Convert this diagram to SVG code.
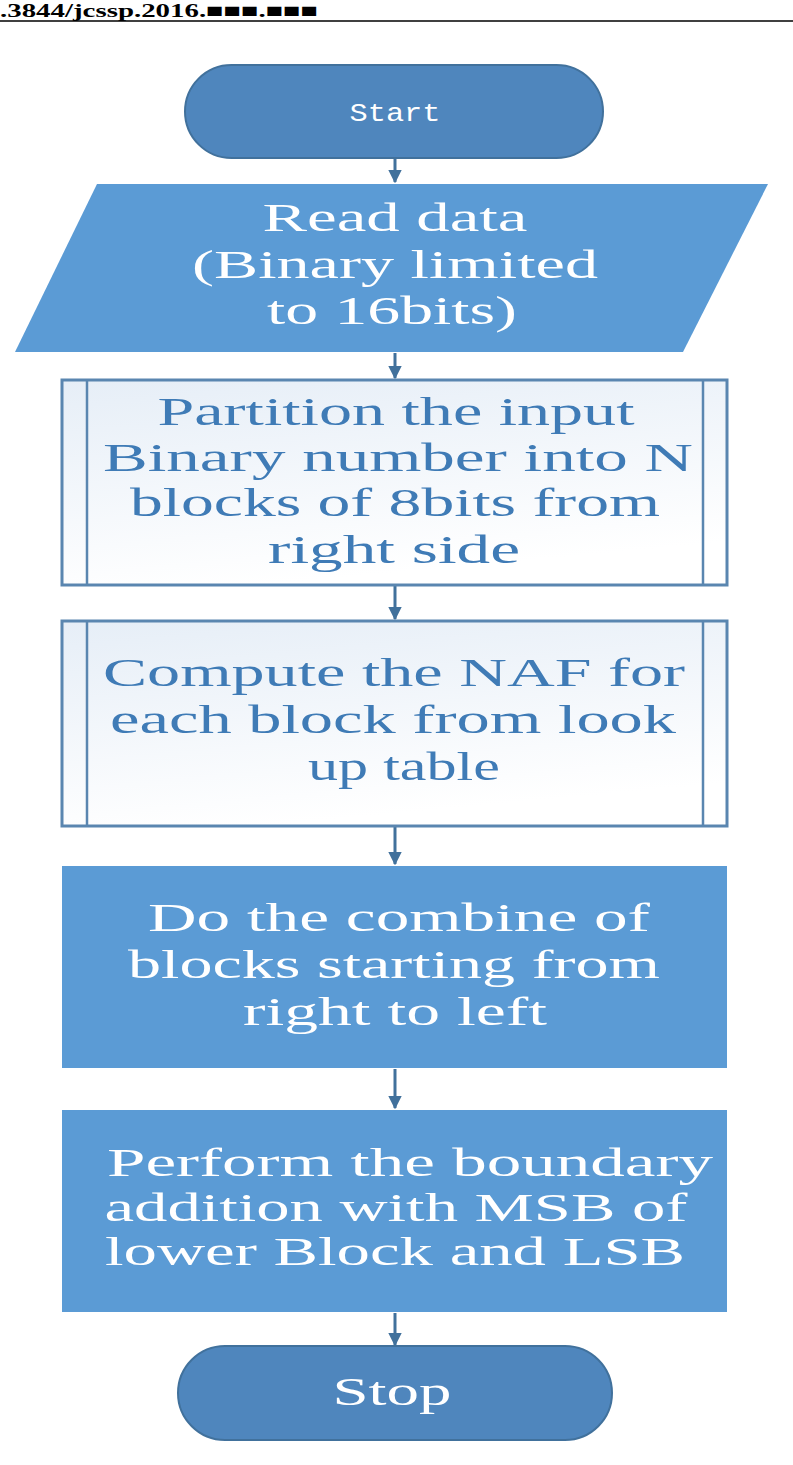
<svg xmlns="http://www.w3.org/2000/svg" width="793" height="1465" viewBox="0 0 793 1465">
<style>
.hdr{font-family:"Liberation Serif",serif;font-weight:bold;font-size:19px;fill:#000}
.t{font-family:"Liberation Serif",serif;font-size:40px;text-anchor:middle}
.w{fill:#ffffff}
.b{fill:#3f7bb6}
.term{fill:#4f86bd;stroke:#41719c;stroke-width:2}
.blue{fill:#5b9bd5}
.light{fill:url(#lg);stroke:#5a86b0;stroke-width:3}
.inner{stroke:#5a86b0;stroke-width:2.5;fill:none}
.conn line{stroke:#41719c;stroke-width:3}
</style>
<defs>
<linearGradient id="lg" x1="0" y1="0" x2="0.3" y2="1">
<stop offset="0" stop-color="#e6eef7"/>
<stop offset="1" stop-color="#ffffff"/>
</linearGradient>
<marker id="ah" viewBox="0 0 10 10" refX="9" refY="5" markerWidth="4.5" markerHeight="4.5" orient="auto" markerUnits="strokeWidth">
<path d="M0,0 L10,5 L0,10 z" fill="#41719c"/>
</marker>
</defs>
<rect width="793" height="1465" fill="#ffffff"/>
<g id="header">
<text class="hdr" x="0" y="17" textLength="318" lengthAdjust="spacingAndGlyphs">.3844/jcssp.2016.■■■.■■■</text>
<line x1="0" y1="21" x2="793" y2="21" stroke="#000" stroke-width="1.5"/>
</g>
<g class="conn" id="connectors">
<line x1="395" y1="159" x2="395" y2="182" marker-end="url(#ah)"/>
<line x1="395" y1="353" x2="395" y2="378" marker-end="url(#ah)"/>
<line x1="395" y1="586" x2="395" y2="619" marker-end="url(#ah)"/>
<line x1="395" y1="827" x2="395" y2="864" marker-end="url(#ah)"/>
<line x1="395" y1="1069" x2="395" y2="1108" marker-end="url(#ah)"/>
<line x1="395" y1="1313" x2="395" y2="1345" marker-end="url(#ah)"/>
</g>
<g id="start">
<rect class="term" x="185" y="65" width="418" height="93" rx="46.5" ry="46.5"/>
<text x="395" y="121" font-family="Liberation Mono,monospace" font-size="26" text-anchor="middle" fill="#fff" textLength="91" lengthAdjust="spacingAndGlyphs">Start</text>
</g>
<g id="read">
<polygon class="blue" points="97,184 768,184 683,352 15,352"/>
<text class="t w" x="395" y="231" textLength="265" lengthAdjust="spacingAndGlyphs">Read data</text>
<text class="t w" x="395" y="278" textLength="406" lengthAdjust="spacingAndGlyphs">(Binary limited</text>
<text class="t w" x="392" y="324" textLength="250" lengthAdjust="spacingAndGlyphs">to 16bits)</text>
</g>
<g id="partition">
<rect class="light" x="62" y="380" width="665" height="205"/>
<line class="inner" x1="87" y1="380" x2="87" y2="585"/>
<line class="inner" x1="703" y1="380" x2="703" y2="585"/>
<text class="t b" x="396" y="425" textLength="477" lengthAdjust="spacingAndGlyphs">Partition the input</text>
<text class="t b" x="398" y="471" textLength="590" lengthAdjust="spacingAndGlyphs">Binary number into N</text>
<text class="t b" x="395" y="516" textLength="530" lengthAdjust="spacingAndGlyphs">blocks of 8bits from</text>
<text class="t b" x="394" y="563" textLength="252" lengthAdjust="spacingAndGlyphs">right side</text>
</g>
<g id="compute">
<rect class="light" x="62" y="621" width="665" height="205"/>
<line class="inner" x1="87" y1="621" x2="87" y2="826"/>
<line class="inner" x1="703" y1="621" x2="703" y2="826"/>
<text class="t b" x="394" y="686" textLength="582" lengthAdjust="spacingAndGlyphs">Compute the NAF for</text>
<text class="t b" x="393" y="733" textLength="566" lengthAdjust="spacingAndGlyphs">each block from look</text>
<text class="t b" x="404" y="780" textLength="192" lengthAdjust="spacingAndGlyphs">up table</text>
</g>
<g id="combine">
<rect class="blue" x="62" y="866" width="665" height="202"/>
<text class="t w" x="399" y="931" textLength="502" lengthAdjust="spacingAndGlyphs">Do the combine of</text>
<text class="t w" x="394" y="978" textLength="532" lengthAdjust="spacingAndGlyphs">blocks starting from</text>
<text class="t w" x="395" y="1025" textLength="304" lengthAdjust="spacingAndGlyphs">right to left</text>
</g>
<g id="perform">
<rect class="blue" x="62" y="1110" width="665" height="202"/>
<text class="t w" x="410" y="1176" textLength="606" lengthAdjust="spacingAndGlyphs">Perform the boundary</text>
<text class="t w" x="396" y="1221" textLength="583" lengthAdjust="spacingAndGlyphs">addition with MSB of</text>
<text class="t w" x="395" y="1265" textLength="580" lengthAdjust="spacingAndGlyphs">lower Block and LSB</text>
</g>
<g id="stop">
<rect class="term" x="178" y="1346" width="434" height="94" rx="47" ry="47"/>
<text class="t w" x="392" y="1405" textLength="119" lengthAdjust="spacingAndGlyphs">Stop</text>
</g>
</svg>
